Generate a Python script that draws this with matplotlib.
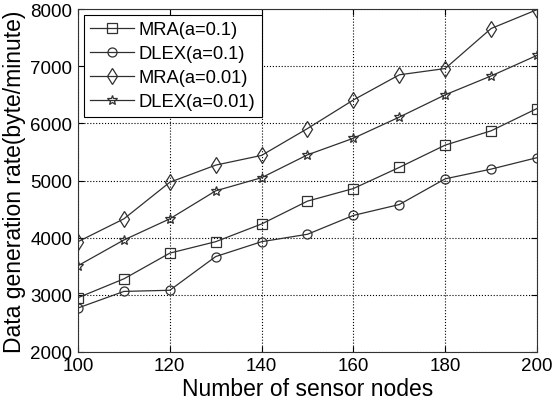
import matplotlib
matplotlib.use('Agg')
import matplotlib.pyplot as plt
import numpy as np

plt.rcParams['font.family'] = ['Liberation Sans', 'DejaVu Sans']

nodes = [100, 110, 120, 130, 140, 150, 160, 170, 180, 190, 200]
mra_01 = [2950, 3280, 3730, 3930, 4240, 4640, 4860, 5230, 5620, 5870, 6260]
dlex_01 = [2770, 3060, 3080, 3670, 3930, 4060, 4390, 4580, 5030, 5200, 5400]
mra_001 = [3930, 4330, 4970, 5270, 5440, 5910, 6410, 6850, 6960, 7660, 7990]
dlex_001 = [3510, 3960, 4330, 4820, 5050, 5450, 5740, 6110, 6500, 6830, 7190]

fig = plt.figure(figsize=(5.52, 4.02), dpi=100)
ax = fig.add_axes([0.1413, 0.1219, 0.8315, 0.853])

lc = '#303030'
ax.plot(nodes, mra_01, color=lc, lw=0.9, marker='s', ms=6.5, mfc='none', mec=lc, mew=0.9, label='MRA(a=0.1)')
ax.plot(nodes, dlex_01, color=lc, lw=0.9, marker='o', ms=6.5, mfc='none', mec=lc, mew=0.9, label='DLEX(a=0.1)')
ax.plot(nodes, mra_001, color=lc, lw=0.9, marker='d', ms=8, mfc='none', mec=lc, mew=0.9, label='MRA(a=0.01)')
ax.plot(nodes, dlex_001, color=lc, lw=0.9, marker='*', ms=7, mfc='none', mec=lc, mew=0.9, label='DLEX(a=0.01)')

ax.set_xlim(100, 200)
ax.set_ylim(2000, 8000)
ax.set_xticks(np.arange(100, 201, 20))
ax.set_yticks(np.arange(2000, 8001, 1000))
ax.grid(True, linestyle=':', color='black', lw=0.8)
ax.tick_params(direction='in', top=True, right=True, labelsize=13.5, length=4)
ax.tick_params(axis='x', pad=3.5)
ax.tick_params(axis='y', pad=4)
for s in ax.spines.values():
    s.set_linewidth(0.8)
    s.set_color('#333333')

ax.set_xlabel('Number of sensor nodes', fontsize=16.5, labelpad=2)
ax.set_ylabel('Data generation rate(byte/minute)', fontsize=16.5, labelpad=3)

leg = ax.legend(loc='upper left', fontsize=13.2, fancybox=False, framealpha=1,
                edgecolor='black', handlelength=2.4, borderpad=0.35,
                labelspacing=0.38, handletextpad=0.25, borderaxespad=0.32)
leg.get_frame().set_linewidth(0.8)

fig.savefig('out.png', dpi=100)
